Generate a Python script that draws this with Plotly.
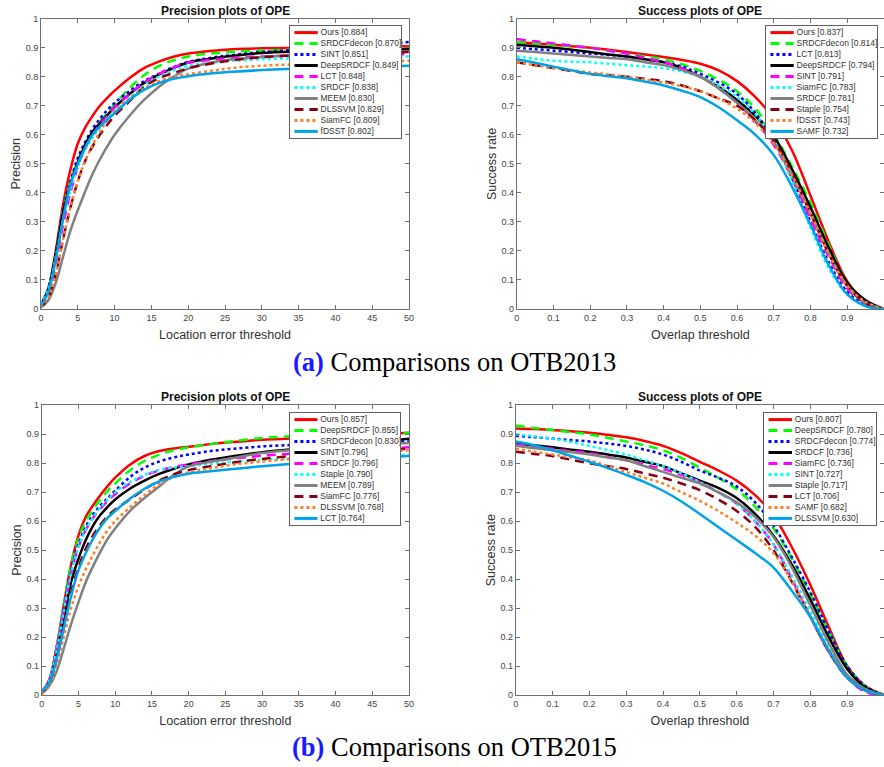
import plotly.graph_objects as go

W, H = 884, 767

# ---------------- data ----------------
PREC_X = [0, 1, 2, 3, 4, 5, 6, 7, 8, 9, 10, 12, 14, 16, 18, 20, 23, 26, 30, 35, 40, 45, 50]
SUCC_X = [0, 0.05, 0.1, 0.15, 0.2, 0.25, 0.3, 0.35, 0.4, 0.45, 0.5,
          0.55, 0.6, 0.65, 0.7, 0.75, 0.8, 0.85, 0.9, 0.95, 1.0]

# (a) OTB2013 - precision
A_PREC_NAMES = ["Ours", "SRDCFdecon", "SINT", "DeepSRDCF", "LCT", "SRDCF", "MEEM", "DLSSVM", "SiamFC", "fDSST"]
A_PREC_SCORES = [0.884, 0.870, 0.851, 0.849, 0.848, 0.838, 0.830, 0.829, 0.809, 0.802]
A_PREC_Y = [
    [0.01, 0.07, 0.20, 0.36, 0.48, 0.57, 0.625, 0.665, 0.70, 0.727, 0.752, 0.795, 0.83, 0.852, 0.869, 0.880, 0.889, 0.895, 0.898, 0.90, 0.902, 0.903, 0.905],
    [0.015, 0.07, 0.19, 0.34, 0.44, 0.51, 0.57, 0.61, 0.645, 0.675, 0.705, 0.76, 0.805, 0.837, 0.857, 0.870, 0.88, 0.886, 0.89, 0.894, 0.897, 0.899, 0.90],
    [0.015, 0.07, 0.19, 0.34, 0.44, 0.52, 0.575, 0.62, 0.655, 0.685, 0.71, 0.75, 0.785, 0.81, 0.833, 0.851, 0.865, 0.875, 0.885, 0.893, 0.90, 0.91, 0.92],
    [0.015, 0.07, 0.19, 0.33, 0.43, 0.505, 0.565, 0.61, 0.64, 0.668, 0.695, 0.74, 0.778, 0.807, 0.83, 0.849, 0.862, 0.872, 0.882, 0.887, 0.89, 0.893, 0.895],
    [0.01, 0.06, 0.16, 0.29, 0.40, 0.49, 0.555, 0.60, 0.635, 0.665, 0.695, 0.74, 0.78, 0.81, 0.832, 0.848, 0.858, 0.865, 0.87, 0.873, 0.875, 0.877, 0.878],
    [0.015, 0.07, 0.18, 0.31, 0.41, 0.49, 0.55, 0.59, 0.625, 0.655, 0.68, 0.725, 0.77, 0.80, 0.822, 0.838, 0.848, 0.855, 0.86, 0.864, 0.866, 0.868, 0.87],
    [0.005, 0.03, 0.09, 0.18, 0.27, 0.34, 0.405, 0.465, 0.515, 0.56, 0.60, 0.665, 0.72, 0.765, 0.80, 0.828, 0.848, 0.86, 0.868, 0.875, 0.88, 0.883, 0.886],
    [0.005, 0.04, 0.12, 0.24, 0.35, 0.44, 0.51, 0.56, 0.60, 0.635, 0.665, 0.715, 0.765, 0.795, 0.813, 0.829, 0.845, 0.857, 0.867, 0.874, 0.878, 0.882, 0.885],
    [0.005, 0.04, 0.12, 0.24, 0.35, 0.44, 0.51, 0.565, 0.61, 0.65, 0.68, 0.725, 0.76, 0.785, 0.80, 0.809, 0.82, 0.83, 0.838, 0.843, 0.847, 0.851, 0.855],
    [0.01, 0.06, 0.17, 0.31, 0.43, 0.50, 0.555, 0.60, 0.628, 0.652, 0.675, 0.72, 0.755, 0.778, 0.793, 0.802, 0.811, 0.817, 0.823, 0.828, 0.832, 0.835, 0.838],
]

# (a) OTB2013 - success
A_SUCC_NAMES = ["Ours", "SRDCFdecon", "LCT", "DeepSRDCF", "SINT", "SiamFC", "SRDCF", "Staple", "fDSST", "SAMF"]
A_SUCC_SCORES = [0.837, 0.814, 0.813, 0.794, 0.791, 0.783, 0.781, 0.754, 0.743, 0.732]
A_SUCC_Y = [
    [0.92, 0.915, 0.91, 0.905, 0.90, 0.893, 0.885, 0.877, 0.868, 0.858, 0.845, 0.822, 0.785, 0.73, 0.655, 0.545, 0.39, 0.23, 0.095, 0.025, 0.0],
    [0.92, 0.915, 0.91, 0.905, 0.90, 0.89, 0.88, 0.87, 0.86, 0.843, 0.82, 0.79, 0.75, 0.69, 0.60, 0.49, 0.365, 0.22, 0.09, 0.02, 0.0],
    [0.90, 0.895, 0.89, 0.885, 0.88, 0.875, 0.87, 0.86, 0.85, 0.835, 0.81, 0.78, 0.74, 0.675, 0.58, 0.45, 0.30, 0.16, 0.06, 0.012, 0.0],
    [0.91, 0.905, 0.90, 0.893, 0.885, 0.877, 0.87, 0.86, 0.85, 0.83, 0.80, 0.765, 0.72, 0.665, 0.595, 0.48, 0.35, 0.21, 0.09, 0.03, 0.0],
    [0.93, 0.922, 0.915, 0.907, 0.90, 0.89, 0.88, 0.865, 0.85, 0.83, 0.80, 0.76, 0.71, 0.645, 0.565, 0.45, 0.31, 0.18, 0.07, 0.02, 0.0],
    [0.87, 0.862, 0.855, 0.852, 0.85, 0.845, 0.84, 0.835, 0.83, 0.818, 0.80, 0.77, 0.73, 0.67, 0.58, 0.44, 0.28, 0.14, 0.05, 0.01, 0.0],
    [0.89, 0.885, 0.88, 0.875, 0.87, 0.865, 0.86, 0.85, 0.84, 0.823, 0.80, 0.76, 0.71, 0.65, 0.575, 0.46, 0.33, 0.19, 0.08, 0.02, 0.0],
    [0.85, 0.84, 0.83, 0.82, 0.81, 0.805, 0.80, 0.793, 0.785, 0.77, 0.75, 0.725, 0.70, 0.65, 0.58, 0.47, 0.33, 0.19, 0.08, 0.02, 0.0],
    [0.85, 0.84, 0.83, 0.822, 0.815, 0.808, 0.80, 0.79, 0.78, 0.767, 0.75, 0.725, 0.69, 0.64, 0.57, 0.46, 0.33, 0.19, 0.08, 0.025, 0.0],
    [0.86, 0.848, 0.835, 0.822, 0.81, 0.802, 0.795, 0.783, 0.77, 0.752, 0.73, 0.695, 0.65, 0.60, 0.53, 0.42, 0.29, 0.15, 0.05, 0.01, 0.0],
]

# (b) OTB2015 - precision
B_PREC_NAMES = ["Ours", "DeepSRDCF", "SRDCFdecon", "SINT", "SRDCF", "Staple", "MEEM", "SiamFC", "DLSSVM", "LCT"]
B_PREC_SCORES = [0.857, 0.855, 0.830, 0.796, 0.796, 0.790, 0.789, 0.776, 0.768, 0.764]
B_PREC_Y = [
    [0.01, 0.05, 0.16, 0.31, 0.45, 0.55, 0.615, 0.655, 0.69, 0.722, 0.75, 0.795, 0.825, 0.842, 0.851, 0.857, 0.866, 0.873, 0.881, 0.887, 0.892, 0.898, 0.905],
    [0.01, 0.05, 0.16, 0.31, 0.45, 0.54, 0.60, 0.64, 0.675, 0.705, 0.73, 0.775, 0.808, 0.83, 0.845, 0.855, 0.866, 0.876, 0.887, 0.895, 0.90, 0.903, 0.905],
    [0.01, 0.05, 0.16, 0.30, 0.43, 0.52, 0.58, 0.623, 0.655, 0.68, 0.705, 0.752, 0.785, 0.806, 0.82, 0.830, 0.842, 0.85, 0.858, 0.864, 0.868, 0.872, 0.875],
    [0.01, 0.04, 0.13, 0.26, 0.39, 0.47, 0.535, 0.585, 0.622, 0.65, 0.675, 0.712, 0.74, 0.763, 0.781, 0.796, 0.812, 0.824, 0.838, 0.85, 0.86, 0.872, 0.885],
    [0.01, 0.05, 0.15, 0.29, 0.42, 0.51, 0.57, 0.612, 0.643, 0.67, 0.693, 0.73, 0.757, 0.775, 0.787, 0.796, 0.807, 0.816, 0.826, 0.835, 0.842, 0.849, 0.855],
    [0.01, 0.05, 0.15, 0.29, 0.42, 0.51, 0.57, 0.613, 0.647, 0.675, 0.70, 0.735, 0.76, 0.777, 0.785, 0.790, 0.798, 0.805, 0.812, 0.818, 0.823, 0.827, 0.83],
    [0.005, 0.03, 0.08, 0.16, 0.245, 0.32, 0.39, 0.445, 0.495, 0.54, 0.575, 0.635, 0.68, 0.72, 0.76, 0.789, 0.805, 0.818, 0.835, 0.848, 0.858, 0.865, 0.87],
    [0.005, 0.04, 0.12, 0.24, 0.355, 0.44, 0.505, 0.552, 0.588, 0.618, 0.64, 0.675, 0.71, 0.74, 0.762, 0.776, 0.79, 0.802, 0.815, 0.827, 0.836, 0.844, 0.85],
    [0.005, 0.03, 0.10, 0.20, 0.30, 0.375, 0.435, 0.485, 0.53, 0.57, 0.60, 0.648, 0.69, 0.728, 0.752, 0.768, 0.783, 0.795, 0.806, 0.817, 0.828, 0.837, 0.845],
    [0.01, 0.04, 0.12, 0.23, 0.34, 0.43, 0.49, 0.54, 0.58, 0.612, 0.635, 0.677, 0.712, 0.737, 0.753, 0.764, 0.772, 0.78, 0.79, 0.80, 0.81, 0.818, 0.825],
]

# (b) OTB2015 - success
B_SUCC_NAMES = ["Ours", "DeepSRDCF", "SRDCFdecon", "SRDCF", "SiamFC", "SINT", "Staple", "LCT", "SAMF", "DLSSVM"]
B_SUCC_SCORES = [0.807, 0.780, 0.774, 0.736, 0.736, 0.727, 0.717, 0.706, 0.682, 0.630]
B_SUCC_Y = [
    [0.92, 0.918, 0.915, 0.91, 0.905, 0.898, 0.89, 0.877, 0.86, 0.835, 0.805, 0.775, 0.74, 0.69, 0.62, 0.51, 0.38, 0.235, 0.10, 0.03, 0.0],
    [0.93, 0.922, 0.915, 0.907, 0.90, 0.888, 0.875, 0.862, 0.845, 0.818, 0.785, 0.75, 0.71, 0.65, 0.575, 0.47, 0.35, 0.22, 0.10, 0.03, 0.0],
    [0.895, 0.89, 0.885, 0.88, 0.875, 0.868, 0.86, 0.847, 0.83, 0.805, 0.775, 0.75, 0.72, 0.665, 0.585, 0.475, 0.355, 0.22, 0.10, 0.03, 0.0],
    [0.87, 0.862, 0.855, 0.847, 0.84, 0.83, 0.82, 0.805, 0.79, 0.765, 0.74, 0.715, 0.68, 0.625, 0.55, 0.45, 0.33, 0.20, 0.09, 0.025, 0.0],
    [0.865, 0.857, 0.85, 0.842, 0.835, 0.822, 0.81, 0.795, 0.78, 0.76, 0.735, 0.70, 0.66, 0.60, 0.52, 0.40, 0.27, 0.15, 0.06, 0.01, 0.0],
    [0.90, 0.893, 0.885, 0.873, 0.86, 0.845, 0.83, 0.81, 0.79, 0.765, 0.735, 0.70, 0.66, 0.60, 0.52, 0.41, 0.29, 0.17, 0.07, 0.02, 0.0],
    [0.86, 0.852, 0.845, 0.838, 0.83, 0.82, 0.81, 0.79, 0.77, 0.75, 0.73, 0.70, 0.665, 0.615, 0.545, 0.44, 0.31, 0.18, 0.07, 0.02, 0.0],
    [0.84, 0.832, 0.825, 0.812, 0.80, 0.79, 0.78, 0.765, 0.75, 0.73, 0.707, 0.675, 0.635, 0.58, 0.50, 0.39, 0.27, 0.15, 0.06, 0.015, 0.0],
    [0.85, 0.84, 0.83, 0.82, 0.81, 0.79, 0.77, 0.75, 0.73, 0.70, 0.67, 0.635, 0.595, 0.55, 0.49, 0.39, 0.27, 0.155, 0.06, 0.015, 0.0],
    [0.875, 0.862, 0.845, 0.825, 0.805, 0.783, 0.76, 0.735, 0.705, 0.668, 0.625, 0.58, 0.535, 0.49, 0.44, 0.36, 0.27, 0.155, 0.06, 0.015, 0.0],
]

PREC_TICKS = [0, 5, 10, 15, 20, 25, 30, 35, 40, 45, 50]
SUCC_TICKS = [0, 0.1, 0.2, 0.3, 0.4, 0.5, 0.6, 0.7, 0.8, 0.9, 1]
Y_TICKS = [0, 0.1, 0.2, 0.3, 0.4, 0.5, 0.6, 0.7, 0.8, 0.9, 1]
Y_TICKTEXT = ["0", "0.1", "0.2", "0.3", "0.4", "0.5", "0.6", "0.7", "0.8", "0.9", "1"]

# ---------------- styles ----------------
COLORS = ["#ff0000", "#00ff00", "#0000ff", "#000000", "#ff00ff",
          "#00ffff", "#808080", "#880015", "#ff7f27", "#00a2e8"]
DASHES = ["solid", "9px,6px", "3px,3px", "solid", "9px,6px",
          "3px,3px", "solid", "9px,6px", "3px,3px", "solid"]
LW = 2.5
FONT = "Liberation Sans, Arial, sans-serif"
FRAME = "#707070"


def px_dom_x(a, b):
    return [a / W, min(b / W, 1.0)]


def px_dom_y(top, bottom):
    return [1 - bottom / H, 1 - top / H]


panels = [
    dict(x=PREC_X, names=A_PREC_NAMES, scores=A_PREC_SCORES, ys=A_PREC_Y,
         dx=px_dom_x(41, 409), dy=px_dom_y(18.7, 309), rng=[0, 50], ticks=PREC_TICKS,
         title="Precision plots of OPE", xt="Location error threshold", yt="Precision",
         ldx=px_dom_x(290, 401), ldy=px_dom_y(26, 138)),
    dict(x=SUCC_X, names=A_SUCC_NAMES, scores=A_SUCC_SCORES, ys=A_SUCC_Y,
         dx=px_dom_x(516.7, 884), dy=px_dom_y(18.7, 309), rng=[0, 1], ticks=SUCC_TICKS,
         title="Success plots of OPE", xt="Overlap threshold", yt="Success rate",
         ldx=px_dom_x(766, 877), ldy=px_dom_y(26, 138)),
    dict(x=PREC_X, names=B_PREC_NAMES, scores=B_PREC_SCORES, ys=B_PREC_Y,
         dx=px_dom_x(41.7, 409), dy=px_dom_y(405.3, 695), rng=[0, 50], ticks=PREC_TICKS,
         title="Precision plots of OPE", xt="Location error threshold", yt="Precision",
         ldx=px_dom_x(290, 400), ldy=px_dom_y(413, 525)),
    dict(x=SUCC_X, names=B_SUCC_NAMES, scores=B_SUCC_SCORES, ys=B_SUCC_Y,
         dx=px_dom_x(515.7, 884), dy=px_dom_y(405.3, 695), rng=[0, 1], ticks=SUCC_TICKS,
         title="Success plots of OPE", xt="Overlap threshold", yt="Success rate",
         ldx=px_dom_x(764, 876), ldy=px_dom_y(413, 525)),
]

fig = go.Figure()
layout = {}
annotations = []

LEG_TOP, LEG_BOT = -0.6, 9.6
for p_i, p in enumerate(panels):
    n = p_i + 1
    sx = "" if n == 1 else str(n)
    xa, ya = "x" + sx, "y" + sx
    # main curves
    for k, (name, yv) in enumerate(zip(p["names"], p["ys"])):
        fig.add_trace(go.Scatter(
            x=p["x"], y=yv, xaxis=xa, yaxis=ya, mode="lines", name=name,
            line=dict(color=COLORS[k], width=LW, dash=DASHES[k], shape="spline", smoothing=1.0),
            showlegend=False, hoverinfo="skip"))
    layout["xaxis" + sx] = dict(
        domain=p["dx"], range=p["rng"], anchor=ya, tickvals=p["ticks"], automargin=False,
        ticks="inside", ticklen=4, tickcolor=FRAME, showline=True, linecolor=FRAME,
        linewidth=1, mirror="ticks", showgrid=False, zeroline=False,
        tickfont=dict(family=FONT, size=9, color="#444"),
        title=dict(text=p["xt"], font=dict(family=FONT, size=12.5, color="#333"), standoff=8))
    layout["yaxis" + sx] = dict(
        domain=p["dy"], range=[0, 1], anchor=xa, tickvals=Y_TICKS, ticktext=Y_TICKTEXT,
        automargin=False,
        ticks="inside", ticklen=4, tickcolor=FRAME, showline=True, linecolor=FRAME,
        linewidth=1, mirror="ticks", showgrid=False, zeroline=False,
        tickfont=dict(family=FONT, size=9, color="#444"),
        title=dict(text=p["yt"], font=dict(family=FONT, size=12.5, color="#333"), standoff=2))
    annotations.append(dict(
        text="<b>" + p["title"] + "</b>", xref=xa + " domain", yref=ya + " domain",
        x=0.5, y=1, yanchor="bottom", showarrow=False, yshift=-1,
        font=dict(family=FONT, size=12, color="#111")))

    # legend as a small boxed subplot
    m = n + 4
    lx, ly = "x" + str(m), "y" + str(m)
    fig.add_trace(go.Scatter(
        x=[0, 1, 1, 0, 0], y=[LEG_TOP, LEG_TOP, LEG_BOT, LEG_BOT, LEG_TOP],
        xaxis=lx, yaxis=ly, mode="lines", fill="toself", fillcolor="white",
        line=dict(width=0, color="white"), showlegend=False, hoverinfo="skip"))
    for k, (name, sc) in enumerate(zip(p["names"], p["scores"])):
        fig.add_trace(go.Scatter(
            x=[0.04, 0.25], y=[k, k], xaxis=lx, yaxis=ly, mode="lines",
            line=dict(color=COLORS[k], width=LW + 0.5, dash=DASHES[k]),
            showlegend=False, hoverinfo="skip"))
    fig.add_trace(go.Scatter(
        x=[0.275] * len(p["names"]), y=list(range(len(p["names"]))),
        text=[f"{nm} [{sc:.3f}]" for nm, sc in zip(p["names"], p["scores"])],
        xaxis=lx, yaxis=ly, mode="text", textposition="middle right",
        textfont=dict(family=FONT, size=8.5, color="#333"),
        showlegend=False, hoverinfo="skip"))
    layout["xaxis" + str(m)] = dict(
        domain=p["ldx"], range=[0, 1], anchor=ly, showticklabels=False, ticks="",
        showgrid=False, zeroline=False, showline=True, mirror=True, automargin=False,
        linecolor="#606060", linewidth=1, fixedrange=True)
    layout["yaxis" + str(m)] = dict(
        domain=p["ldy"], range=[LEG_BOT, LEG_TOP], anchor=lx, showticklabels=False,
        ticks="", showgrid=False, zeroline=False, showline=True, mirror=True, automargin=False,
        linecolor="#606060", linewidth=1, fixedrange=True)

CAPTION_FONT = "Liberation Serif, Times New Roman, serif"
annotations.append(dict(
    text="<b><span style='color:#1a1aff'>(a)</span></b> Comparisons on OTB2013",
    xref="paper", yref="paper", x=455 / W, y=1 - 362 / H,
    xanchor="center", yanchor="middle",
    showarrow=False, font=dict(family=CAPTION_FONT, size=26.5, color="#000")))
annotations.append(dict(
    text="<b><span style='color:#1a1aff'>(b)</span></b> Comparisons on OTB2015",
    xref="paper", yref="paper", x=455 / W, y=1 - 747 / H,
    xanchor="center", yanchor="middle",
    showarrow=False, font=dict(family=CAPTION_FONT, size=26.5, color="#000")))

fig.update_layout(
    width=W, height=H, margin=dict(l=0, r=0, t=0, b=0, autoexpand=False),
    paper_bgcolor="white", plot_bgcolor="white",
    showlegend=False, annotations=annotations, **layout)

fig.write_html("out.html", config={"displayModeBar": False},
               post_script="document.body.style.margin='0px';")
